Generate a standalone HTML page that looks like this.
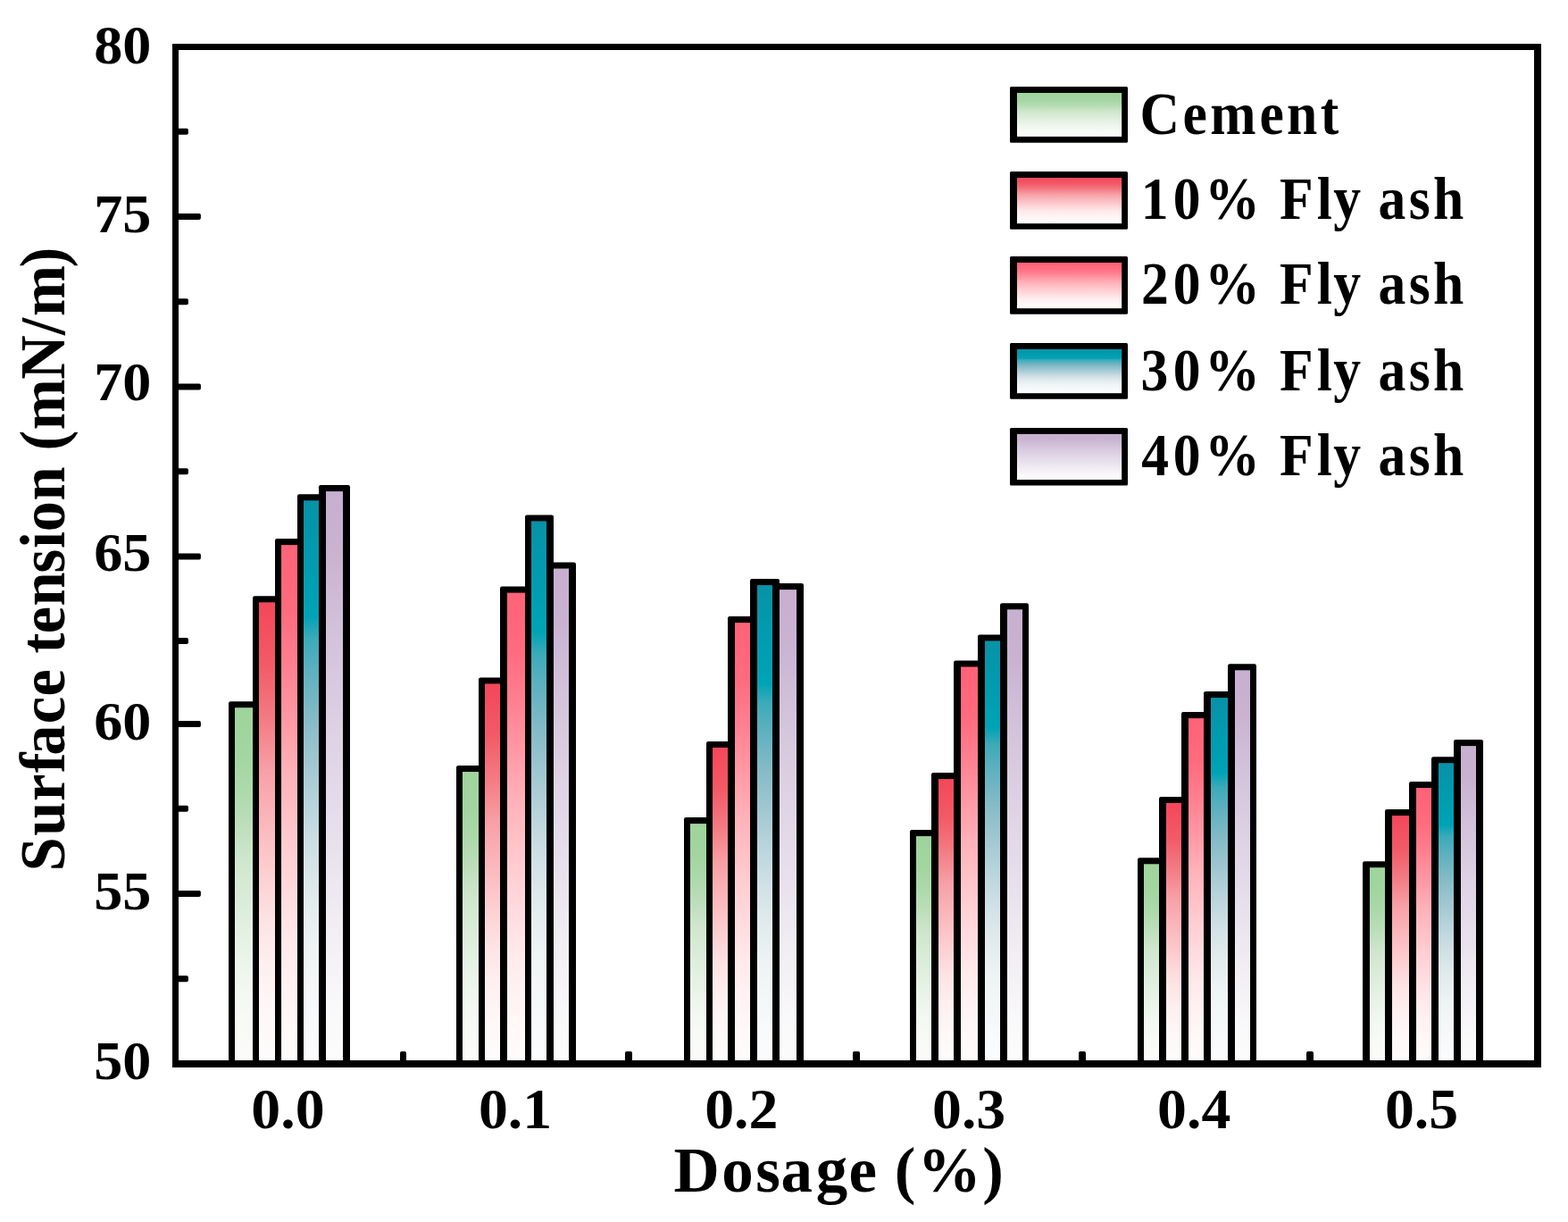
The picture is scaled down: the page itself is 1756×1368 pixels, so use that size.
<!DOCTYPE html>
<html><head><meta charset="utf-8"><style>html,body{margin:0;padding:0;background:#fff}svg{display:block}</style></head>
<body><svg width="1756" height="1368" viewBox="0 0 1756 1368">
<defs>
<linearGradient id="g0" x1="0" y1="0" x2="0" y2="1"><stop offset="0" stop-color="#9fd49c"/><stop offset="0.126" stop-color="#a2d5a0"/><stop offset="0.226" stop-color="#acd9aa"/><stop offset="0.325" stop-color="#bcdeba"/><stop offset="0.425" stop-color="#cfe6cd"/><stop offset="0.499" stop-color="#d6ead4"/><stop offset="0.599" stop-color="#e0efdf"/><stop offset="0.699" stop-color="#eaf4e9"/><stop offset="0.798" stop-color="#f3f8f2"/><stop offset="0.898" stop-color="#f8faf6"/><stop offset="1" stop-color="#fcfcfa"/></linearGradient>
<linearGradient id="g1" x1="0" y1="0" x2="0" y2="1"><stop offset="0" stop-color="#f4475a"/><stop offset="0.133" stop-color="#f25a66"/><stop offset="0.248" stop-color="#f37a82"/><stop offset="0.364" stop-color="#f7a0a6"/><stop offset="0.498" stop-color="#fbbcc0"/><stop offset="0.594" stop-color="#fdd0d2"/><stop offset="0.69" stop-color="#fde3e4"/><stop offset="0.786" stop-color="#feeff0"/><stop offset="0.882" stop-color="#fef7f7"/><stop offset="1" stop-color="#fdfcfc"/></linearGradient>
<linearGradient id="g2" x1="0" y1="0" x2="0" y2="1"><stop offset="0" stop-color="#ff6276"/><stop offset="0.126" stop-color="#ff6b7e"/><stop offset="0.228" stop-color="#ff7f8f"/><stop offset="0.331" stop-color="#ff97a3"/><stop offset="0.434" stop-color="#ffb0b8"/><stop offset="0.502" stop-color="#ffbdc2"/><stop offset="0.588" stop-color="#ffcdd1"/><stop offset="0.673" stop-color="#ffdade"/><stop offset="0.759" stop-color="#ffe8ea"/><stop offset="0.844" stop-color="#fff1f2"/><stop offset="0.93" stop-color="#fff9f8"/><stop offset="1" stop-color="#fdfcfb"/></linearGradient>
<linearGradient id="g3" x1="0" y1="0" x2="0" y2="1"><stop offset="0" stop-color="#0792a7"/><stop offset="0.11" stop-color="#029bb0"/><stop offset="0.205" stop-color="#00a3b6"/><stop offset="0.245" stop-color="#3caab9"/><stop offset="0.3" stop-color="#5cb0bf"/><stop offset="0.38" stop-color="#82bac6"/><stop offset="0.46" stop-color="#9ec6d0"/><stop offset="0.54" stop-color="#b8d3db"/><stop offset="0.62" stop-color="#cfe0e5"/><stop offset="0.7" stop-color="#e0eaec"/><stop offset="0.79" stop-color="#eef3f4"/><stop offset="0.86" stop-color="#f3f7f8"/><stop offset="0.935" stop-color="#f8fafc"/><stop offset="1" stop-color="#fbfcfd"/></linearGradient>
<linearGradient id="g4" x1="0" y1="0" x2="0" y2="1"><stop offset="0" stop-color="#c7b0cf"/><stop offset="0.114" stop-color="#c9b3d1"/><stop offset="0.222" stop-color="#d1bfd9"/><stop offset="0.316" stop-color="#d7c8dd"/><stop offset="0.393" stop-color="#dccfe2"/><stop offset="0.502" stop-color="#e2d8e8"/><stop offset="0.626" stop-color="#e9e2ee"/><stop offset="0.75" stop-color="#f1edf3"/><stop offset="0.859" stop-color="#f7f5f8"/><stop offset="0.937" stop-color="#fafafb"/><stop offset="1" stop-color="#fcfcfc"/></linearGradient>
</defs>
<rect width="1756" height="1368" fill="#fff"/>
<rect x="256" y="785.20" width="34" height="405.80" rx="2.2" fill="#000"/>
<rect x="263" y="792.20" width="20" height="398.80" fill="url(#g0)"/>
<rect x="283" y="667.30" width="32" height="523.70" rx="2.2" fill="#000"/>
<rect x="290" y="674.30" width="18" height="516.70" fill="url(#g1)"/>
<rect x="308" y="603.10" width="32" height="587.90" rx="2.2" fill="#000"/>
<rect x="315" y="610.10" width="18" height="580.90" fill="url(#g2)"/>
<rect x="333" y="553.30" width="32" height="637.70" rx="2.2" fill="#000"/>
<rect x="340" y="560.30" width="17" height="630.70" fill="url(#g3)"/>
<rect x="357" y="543.10" width="35" height="647.90" rx="2.2" fill="#000"/>
<rect x="365" y="550.10" width="19" height="640.90" fill="url(#g4)"/>
<rect x="511" y="857.00" width="32" height="334.00" rx="2.2" fill="#000"/>
<rect x="518" y="864.00" width="18" height="327.00" fill="url(#g0)"/>
<rect x="536" y="758.40" width="32" height="432.60" rx="2.2" fill="#000"/>
<rect x="543" y="765.40" width="17" height="425.60" fill="url(#g1)"/>
<rect x="560" y="656.60" width="35" height="534.40" rx="2.2" fill="#000"/>
<rect x="568" y="663.60" width="20" height="527.40" fill="url(#g2)"/>
<rect x="588" y="576.40" width="32" height="614.60" rx="2.2" fill="#000"/>
<rect x="595" y="583.40" width="17" height="607.60" fill="url(#g3)"/>
<rect x="612" y="629.50" width="33" height="561.50" rx="2.2" fill="#000"/>
<rect x="620" y="636.50" width="17" height="554.50" fill="url(#g4)"/>
<rect x="766" y="915.10" width="32" height="275.90" rx="2.2" fill="#000"/>
<rect x="773" y="922.10" width="18" height="268.90" fill="url(#g0)"/>
<rect x="791" y="829.90" width="32" height="361.10" rx="2.2" fill="#000"/>
<rect x="798" y="836.90" width="17" height="354.10" fill="url(#g1)"/>
<rect x="815" y="690.10" width="33" height="500.90" rx="2.2" fill="#000"/>
<rect x="823" y="697.10" width="17" height="493.90" fill="url(#g2)"/>
<rect x="840" y="648.10" width="33" height="542.90" rx="2.2" fill="#000"/>
<rect x="848" y="655.10" width="17" height="535.90" fill="url(#g3)"/>
<rect x="865" y="653.10" width="35" height="537.90" rx="2.2" fill="#000"/>
<rect x="873" y="660.10" width="19" height="530.90" fill="url(#g4)"/>
<rect x="1019" y="929.10" width="32" height="261.90" rx="2.2" fill="#000"/>
<rect x="1026" y="936.10" width="17" height="254.90" fill="url(#g0)"/>
<rect x="1043" y="865.10" width="33" height="325.90" rx="2.2" fill="#000"/>
<rect x="1051" y="872.10" width="17" height="318.90" fill="url(#g1)"/>
<rect x="1068" y="739.50" width="35" height="451.50" rx="2.2" fill="#000"/>
<rect x="1076" y="746.50" width="19" height="444.50" fill="url(#g2)"/>
<rect x="1095" y="710.40" width="33" height="480.60" rx="2.2" fill="#000"/>
<rect x="1103" y="717.40" width="17" height="473.60" fill="url(#g3)"/>
<rect x="1120" y="675.30" width="32" height="515.70" rx="2.2" fill="#000"/>
<rect x="1128" y="682.30" width="17" height="508.70" fill="url(#g4)"/>
<rect x="1274" y="960.30" width="32" height="230.70" rx="2.2" fill="#000"/>
<rect x="1281" y="967.30" width="17" height="223.70" fill="url(#g0)"/>
<rect x="1298" y="891.90" width="33" height="299.10" rx="2.2" fill="#000"/>
<rect x="1306" y="898.90" width="17" height="292.10" fill="url(#g1)"/>
<rect x="1323" y="797.10" width="33" height="393.90" rx="2.2" fill="#000"/>
<rect x="1331" y="804.10" width="17" height="386.90" fill="url(#g2)"/>
<rect x="1348" y="774.10" width="35" height="416.90" rx="2.2" fill="#000"/>
<rect x="1356" y="781.10" width="19" height="409.90" fill="url(#g3)"/>
<rect x="1375" y="743.30" width="32" height="447.70" rx="2.2" fill="#000"/>
<rect x="1383" y="750.30" width="17" height="440.70" fill="url(#g4)"/>
<rect x="1526" y="964.20" width="33" height="226.80" rx="2.2" fill="#000"/>
<rect x="1534" y="971.20" width="17" height="219.80" fill="url(#g0)"/>
<rect x="1551" y="906.10" width="35" height="284.90" rx="2.2" fill="#000"/>
<rect x="1559" y="913.10" width="19" height="277.90" fill="url(#g1)"/>
<rect x="1578" y="875.00" width="33" height="316.00" rx="2.2" fill="#000"/>
<rect x="1586" y="882.00" width="17" height="309.00" fill="url(#g2)"/>
<rect x="1603" y="847.20" width="33" height="343.80" rx="2.2" fill="#000"/>
<rect x="1611" y="854.20" width="17" height="336.80" fill="url(#g3)"/>
<rect x="1628" y="828.10" width="33" height="362.90" rx="2.2" fill="#000"/>
<rect x="1636" y="835.10" width="17" height="355.90" fill="url(#g4)"/>
<path d="M193 49H1726V1195H193Z M200 56V1187H1718V56Z" fill="#000" fill-rule="evenodd"/>
<rect x="198" y="143.80" width="12.90" height="7" rx="1.8" fill="#000"/>
<rect x="198" y="238.90" width="26.90" height="7" rx="1.8" fill="#000"/>
<rect x="198" y="334.30" width="12.90" height="7" rx="1.8" fill="#000"/>
<rect x="198" y="429.50" width="26.90" height="7" rx="1.8" fill="#000"/>
<rect x="198" y="524.30" width="12.90" height="7" rx="1.8" fill="#000"/>
<rect x="198" y="619.60" width="26.90" height="7" rx="1.8" fill="#000"/>
<rect x="198" y="714.10" width="12.90" height="7" rx="1.8" fill="#000"/>
<rect x="198" y="807.10" width="26.90" height="7" rx="1.8" fill="#000"/>
<rect x="198" y="901.80" width="12.90" height="7" rx="1.8" fill="#000"/>
<rect x="198" y="996.90" width="26.90" height="7" rx="1.8" fill="#000"/>
<rect x="198" y="1092.20" width="12.90" height="7" rx="1.8" fill="#000"/>
<rect x="448" y="1177" width="7" height="14" rx="1.8" fill="#000"/>
<rect x="700" y="1177" width="8" height="14" rx="1.8" fill="#000"/>
<rect x="955" y="1177" width="8" height="14" rx="1.8" fill="#000"/>
<rect x="1208" y="1177" width="8" height="14" rx="1.8" fill="#000"/>
<rect x="1463" y="1177" width="8" height="14" rx="1.8" fill="#000"/>
<text transform="translate(169.3 1208.40) scale(1.035 1)" font-family="Liberation Serif, Times New Roman, serif" font-weight="bold" font-size="62" text-anchor="end">50</text>
<text transform="translate(169.3 1018.10) scale(1.035 1)" font-family="Liberation Serif, Times New Roman, serif" font-weight="bold" font-size="62" text-anchor="end">55</text>
<text transform="translate(169.3 828.30) scale(1.035 1)" font-family="Liberation Serif, Times New Roman, serif" font-weight="bold" font-size="62" text-anchor="end">60</text>
<text transform="translate(169.3 639.00) scale(1.035 1)" font-family="Liberation Serif, Times New Roman, serif" font-weight="bold" font-size="62" text-anchor="end">65</text>
<text transform="translate(169.3 448.40) scale(1.035 1)" font-family="Liberation Serif, Times New Roman, serif" font-weight="bold" font-size="62" text-anchor="end">70</text>
<text transform="translate(169.3 260.40) scale(1.035 1)" font-family="Liberation Serif, Times New Roman, serif" font-weight="bold" font-size="62" text-anchor="end">75</text>
<text transform="translate(169.3 71.40) scale(1.035 1)" font-family="Liberation Serif, Times New Roman, serif" font-weight="bold" font-size="62" text-anchor="end">80</text>
<text transform="translate(281.29 1262.6) scale(1.045 1)" font-family="Liberation Serif, Times New Roman, serif" font-weight="bold" font-size="63">0.0</text>
<text transform="translate(535.89 1262.6) scale(1.045 1)" font-family="Liberation Serif, Times New Roman, serif" font-weight="bold" font-size="63">0.1</text>
<text transform="translate(789.19 1262.6) scale(1.045 1)" font-family="Liberation Serif, Times New Roman, serif" font-weight="bold" font-size="63">0.2</text>
<text transform="translate(1043.99 1262.6) scale(1.045 1)" font-family="Liberation Serif, Times New Roman, serif" font-weight="bold" font-size="63">0.3</text>
<text transform="translate(1296.09 1262.6) scale(1.045 1)" font-family="Liberation Serif, Times New Roman, serif" font-weight="bold" font-size="63">0.4</text>
<text transform="translate(1550.89 1262.6) scale(1.045 1)" font-family="Liberation Serif, Times New Roman, serif" font-weight="bold" font-size="63">0.5</text>
<text transform="translate(0 1333.9) scale(0.985 1)" x="766.0 820.6 859.2 887.9 927.7 965.1 997.1 1016.9 1043.3 1116.9" font-family="Liberation Serif, Times New Roman, serif" font-weight="bold" font-size="72">Dosage (%)</text>
<text transform="translate(72.2 980.0) rotate(-90) scale(0.945 1)" x="4.8 46.9 87.8 121.4 142.1 179.6 212.2 244.3 263.1 286.4 319.0 358.1 387.4 407.1 443.8 484.1 503.3 527.9 587.6 640.1 662.5 720.1" font-family="Liberation Serif, Times New Roman, serif" font-weight="bold" font-size="72.4">Surface tension (mN/m)</text>
<rect x="1131" y="97" width="132" height="62.8" rx="1.5" fill="#000"/>
<rect x="1139" y="104" width="117.2" height="48.9" fill="url(#g0)"/>
<text transform="translate(0 150.1) scale(0.92 1)" x="1387.4 1439.6 1473.2 1533.1 1566.2 1607.3" font-family="Liberation Serif, Times New Roman, serif" font-weight="bold" font-size="67">Cement</text>
<rect x="1131" y="191.9" width="132" height="64.9" rx="1.5" fill="#000"/>
<rect x="1139" y="199" width="117.2" height="51.2" fill="url(#g1)"/>
<text transform="translate(0 245.0) scale(0.92 1)" x="1388.8 1428.1 1466.7 1533.7 1557.7 1603.0 1623.1 1656.6 1677.8 1714.9 1744.6" font-family="Liberation Serif, Times New Roman, serif" font-weight="bold" font-size="67">10% Fly ash</text>
<rect x="1131" y="286.9" width="132" height="64.9" rx="1.5" fill="#000"/>
<rect x="1139" y="294" width="117.2" height="51.2" fill="url(#g2)"/>
<text transform="translate(0 340.0) scale(0.92 1)" x="1389.1 1428.1 1466.7 1533.7 1557.7 1603.0 1623.1 1656.6 1677.8 1714.9 1744.6" font-family="Liberation Serif, Times New Roman, serif" font-weight="bold" font-size="67">20% Fly ash</text>
<rect x="1131" y="384" width="132" height="62.8" rx="1.5" fill="#000"/>
<rect x="1139" y="390.9" width="117.2" height="49.3" fill="url(#g3)"/>
<text transform="translate(0 437.2) scale(0.92 1)" x="1388.6 1428.1 1466.7 1533.7 1557.7 1603.0 1623.1 1656.6 1677.8 1714.9 1744.6" font-family="Liberation Serif, Times New Roman, serif" font-weight="bold" font-size="67">30% Fly ash</text>
<rect x="1131" y="479" width="132" height="64.5" rx="1.5" fill="#000"/>
<rect x="1139" y="485.9" width="117.2" height="51.1" fill="url(#g4)"/>
<text transform="translate(0 531.9) scale(0.92 1)" x="1389.3 1428.1 1466.7 1533.7 1557.7 1603.0 1623.1 1656.6 1677.8 1714.9 1744.6" font-family="Liberation Serif, Times New Roman, serif" font-weight="bold" font-size="67">40% Fly ash</text>
</svg></body></html>
